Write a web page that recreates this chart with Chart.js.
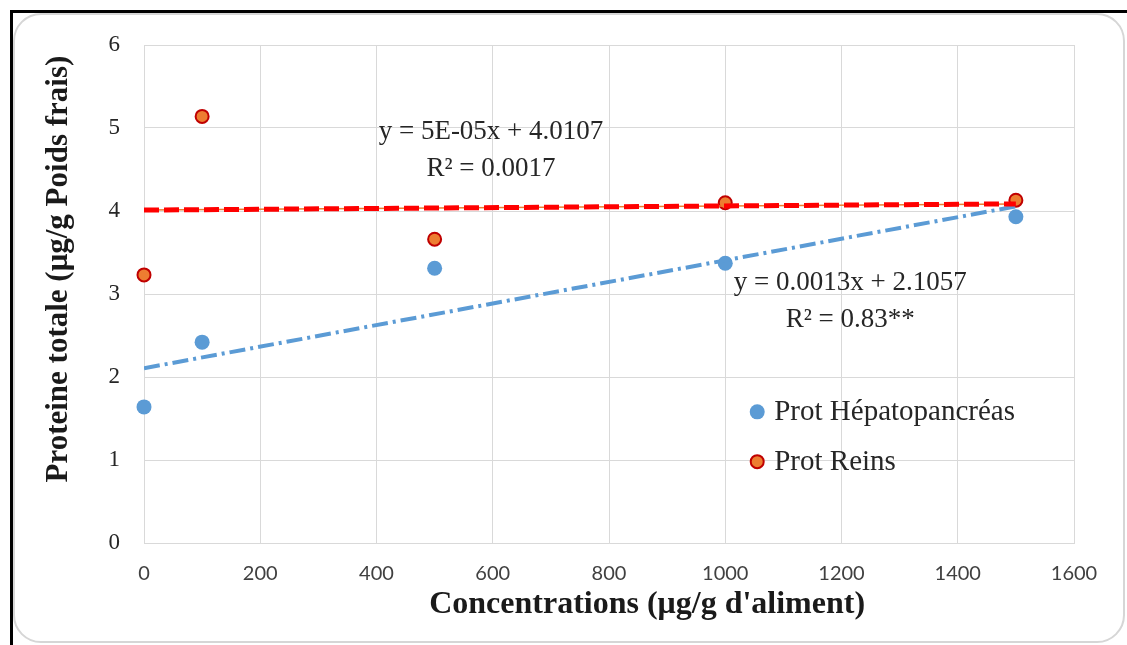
<!DOCTYPE html>
<html>
<head>
<meta charset="utf-8">
<script src="https://cdn.jsdelivr.net/npm/chart.js@4.4.0/dist/chart.umd.min.js"></script>
<style>
  html, body { margin: 0; padding: 0; background: #ffffff; }
  body { width: 1127px; height: 645px; position: relative; overflow: hidden; }
  #topline { position: absolute; left: 10px; top: 10px; width: 1117px; height: 3px; background: #000; }
  #leftline { position: absolute; left: 10px; top: 10px; width: 3px; height: 635px; background: #000; }
  #card { position: absolute; left: 13px; top: 13px; width: 1108px; height: 626px; border: 2px solid #d6d6d6; border-radius: 28px; background: #fff; }
  #c { position: absolute; left: 0; top: 0; }
</style>
</head>
<body>
<div id="card"></div>
<div id="topline"></div>
<div id="leftline"></div>
<canvas id="c" width="1127" height="645"></canvas>
<script>
// ---- Data ----
const concentrations = [0, 100, 500, 1000, 1500];
const protHepato = [1.64, 2.42, 3.31, 3.37, 3.93];
const protReins = [3.23, 5.14, 3.66, 4.10, 4.13];
const seriesLabels = ['Prot Hépatopancréas', 'Prot Reins'];
const trendSlopes = [0.0013, 0.00005];
const trendIntercepts = [2.1057, 4.0107];
const trendRange = [0, 1500];
const equationLines = [
  ['y = 0.0013x + 2.1057', 'R² = 0.83**'],
  ['y = 5E-05x + 4.0107', 'R² = 0.0017']
];
const equationAnchors = [[1215, 3.13], [597, 4.95]]; // data coords of text centre
const xTicks = [0, 200, 400, 600, 800, 1000, 1200, 1400, 1600];
const yTicks = [0, 1, 2, 3, 4, 5, 6];
const xTitle = "Concentrations (μg/g d'aliment)";
const yTitle = 'Proteine totale (μg/g Poids frais)';

const toPts = ys => concentrations.map((x, i) => ({x: x, y: ys[i]}));
const trendPts = k => trendRange.map(x => ({x: x, y: trendIntercepts[k] + trendSlopes[k] * x}));

const BLUE = '#5B9BD5';
const ORANGE = '#ED7D31';
const DARKRED = '#C00000';
const SERIF = '"Liberation Serif", "Times New Roman", serif';

const overlay = {
  id: 'overlay',
  afterDraw(chart) {
    const ctx = chart.ctx;
    const xs = chart.scales.x, ys = chart.scales.y;
    ctx.save();
    // equations
    ctx.fillStyle = '#262626';
    ctx.font = '27px ' + SERIF;
    ctx.textAlign = 'center';
    ctx.textBaseline = 'middle';
    equationLines.forEach((lines, k) => {
      const cx = xs.getPixelForValue(equationAnchors[k][0]);
      const cy = ys.getPixelForValue(equationAnchors[k][1]);
      lines.forEach((t, j) => ctx.fillText(t, cx, cy + j * 37));
    });
    // axis titles
    const area = chart.chartArea;
    ctx.font = 'bold 32px ' + SERIF;
    ctx.fillStyle = '#1a1a1a';
    ctx.fillText(xTitle, area.left + (area.right - area.left) * 0.541, 605);
    ctx.save();
    ctx.font = 'bold 31px ' + SERIF;
    ctx.translate(59, area.top + (area.bottom - area.top) * 0.45);
    ctx.rotate(-Math.PI / 2);
    ctx.fillText(yTitle, 0, 0);
    ctx.restore();
    // legend
    const lx = xs.getPixelForValue(1055), ly0 = ys.getPixelForValue(1.58), ly1 = ys.getPixelForValue(0.98);
    ctx.font = '29px ' + SERIF;
    ctx.textAlign = 'left';
    [[ly0, BLUE, BLUE, 0], [ly1, ORANGE, DARKRED, 2]].forEach(([ly, fill, stroke, bw], k) => {
      ctx.beginPath();
      ctx.arc(lx, ly, bw ? 6.5 : 7.5, 0, Math.PI * 2);
      ctx.fillStyle = fill;
      ctx.fill();
      if (bw) { ctx.lineWidth = bw; ctx.strokeStyle = stroke; ctx.stroke(); }
      ctx.fillStyle = '#262626';
      ctx.fillText(seriesLabels[k], lx + 17, ly + 1);
    });
    ctx.restore();
  }
};

new Chart(document.getElementById('c'), {
  type: 'scatter',
  data: {
    datasets: [
      { label: seriesLabels[0], data: toPts(protHepato), backgroundColor: BLUE, borderColor: BLUE,
        pointRadius: 7.5, pointBorderWidth: 0, order: 2, clip: false },
      { label: seriesLabels[1], data: toPts(protReins), backgroundColor: ORANGE, borderColor: DARKRED,
        pointRadius: 6.5, pointBorderWidth: 2, order: 2, clip: false },
      { type: 'line', label: 'trend reins base', data: trendPts(1), borderColor: ORANGE, borderWidth: 1.5,
        pointRadius: 0, fill: false, order: 1 },
      { type: 'line', label: 'trend reins', data: trendPts(1), borderColor: '#FF0000', borderWidth: 5,
        borderDash: [15, 5], pointRadius: 0, fill: false, order: 0 },
      { type: 'line', label: 'trend hepato', data: trendPts(0), borderColor: BLUE, borderWidth: 4,
        borderDash: [16, 5, 3, 5], pointRadius: 0, fill: false, order: 0 }
    ]
  },
  options: {
    responsive: false,
    animation: false,
    devicePixelRatio: 1,
    layout: { padding: { left: 0, right: 53, top: 45, bottom: 0 } },
    plugins: { legend: { display: false }, tooltip: { enabled: false } },
    scales: {
      x: {
        type: 'linear', min: 0, max: 1600,
        afterBuildTicks: s => { s.ticks = xTicks.map(v => ({value: v})); },
        afterFit: s => { s.height = 102; },
        ticks: { padding: 19, color: '#404040', font: { family: 'Lato', size: 20 },
                 callback: v => String(v) },
        grid: { color: '#D9D9D9', drawTicks: false, lineWidth: 1 },
        border: { display: true, color: '#D9D9D9' }
      },
      y: {
        type: 'linear', min: 0, max: 6,
        afterBuildTicks: s => { s.ticks = yTicks.map(v => ({value: v})); },
        afterFit: s => { s.width = 144; },
        ticks: { padding: 24, color: '#262626', font: { family: 'Liberation Serif', size: 23 },
                 callback: v => String(v) },
        grid: { color: '#D9D9D9', drawTicks: false, lineWidth: 1 },
        border: { display: true, color: '#D9D9D9' }
      }
    }
  },
  plugins: [overlay]
});
</script>
</body>
</html>
